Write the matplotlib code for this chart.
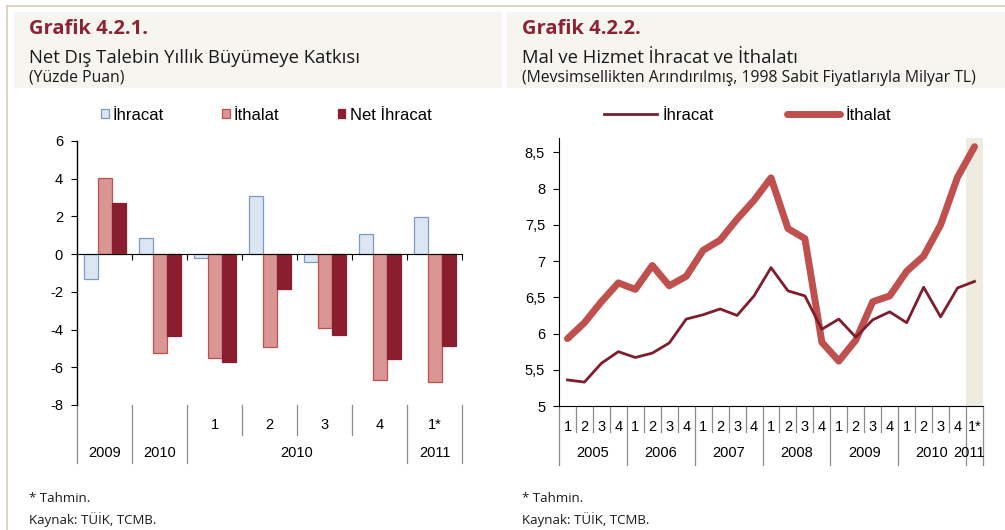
import matplotlib

matplotlib.use('Agg')
import matplotlib.pyplot as plt
from matplotlib.patches import Rectangle
from matplotlib.lines import Line2D

# ---- veri: Grafik 4.2.1 ----
gruplar = ['2009', '2010', '1', '2', '3', '4', '1*']
ihracat_katki = [-1.3, 0.87, -0.22, 3.06, -0.4, 1.08, 1.97]
ithalat_katki = [4.02, -5.25, -5.52, -4.95, -3.93, -6.67, -6.78]
net_ihracat = [2.73, -4.36, -5.72, -1.86, -4.31, -5.56, -4.86]
sol_yticks = [6, 4, 2, 0, -2, -4, -6, -8]

# ---- veri: Grafik 4.2.2 ----
yillar = ['2005', '2006', '2007', '2008', '2009', '2010', '2011']
ceyrekler = ['1', '2', '3', '4'] * 6 + ['1*']
ihracat = [5.36, 5.33, 5.59, 5.75, 5.67, 5.73, 5.87, 6.20,
           6.26, 6.34, 6.25, 6.52, 6.91, 6.59, 6.52, 6.06,
           6.20, 5.95, 6.19, 6.30, 6.15, 6.64, 6.23, 6.63, 6.72]
ithalat = [5.93, 6.15, 6.44, 6.70, 6.61, 6.94, 6.66, 6.79,
           7.15, 7.29, 7.58, 7.84, 8.15, 7.45, 7.31, 5.88,
           5.62, 5.91, 6.44, 6.52, 6.86, 7.07, 7.50, 8.16, 8.58]
sag_yticks = [5, 5.5, 6, 6.5, 7, 7.5, 8, 8.5]

W, H = 1005, 530
KOYU = '#8B1E2E'
ACIK_KIRMIZI = '#D99694'
KIRMIZI_KENAR = '#C0504D'
MAVI = '#DCE6F2'
MAVI_KENAR = '#7E9BC6'
BASLIK = '#8B2334'
CERCEVE = '#D8CCB8'
KUTU = '#F6F5F0'
GRI = '#8C8C8C'

fig = plt.figure(figsize=(W / 100, H / 100), dpi=100)
fig.patch.set_facecolor('white')


def px(x0, y0, x1, y1):
    return [x0 / W, 1 - y1 / H, (x1 - x0) / W, (y1 - y0) / H]


# cerceve ve baslik kutulari
fig.add_artist(Line2D([7 / W, 1], [1 - 6 / H, 1 - 6 / H], color=CERCEVE, lw=1.2))
fig.add_artist(Line2D([7 / W, 7 / W], [0, 1 - 6 / H], color=CERCEVE, lw=1.2))
fig.add_artist(Rectangle((14 / W, 1 - 88 / H), (502 - 14) / W, 76 / H,
                         facecolor=KUTU, edgecolor='none'))
fig.add_artist(Rectangle((507 / W, 1 - 88 / H), (W - 507) / W, 76 / H,
                         facecolor=KUTU, edgecolor='none'))

baslik_font = ['Open Sans', 'DejaVu Sans']
yazi_font = ['Liberation Sans', 'DejaVu Sans']

for x0, no, alt1, alt2 in [
        (29, 'Grafik 4.2.1.', 'Net Dış Talebin Yıllık Büyümeye Katkısı', '(Yüzde Puan)'),
        (522, 'Grafik 4.2.2.', 'Mal ve Hizmet İhracat ve İthalatı',
         '(Mevsimsellikten Arındırılmış, 1998 Sabit Fiyatlarıyla Milyar TL)')]:
    fig.text(x0 / W, 1 - 29 / H, no, family=baslik_font, fontsize=14.5, fontweight='bold',
             color=BASLIK, va='center')
    fig.text(x0 / W, 1 - 58 / H, alt1, family=baslik_font, fontsize=13.3, color='#1a1a1a',
             va='center')
    fig.text(x0 / W, 1 - 78 / H, alt2, family=baslik_font, fontsize=11.3, color='#1a1a1a',
             va='center')
    fig.text(x0 / W, 1 - 499 / H, '* Tahmin.', family=baslik_font, fontsize=9.5,
             color='#1a1a1a', va='center')
    fig.text(x0 / W, 1 - 520 / H, 'Kaynak: TÜİK, TCMB.', family=baslik_font, fontsize=9.5,
             color='#1a1a1a', va='center')

# ---------------- sol grafik ----------------
ax1 = fig.add_axes(px(77, 141, 462, 405))
n = len(gruplar)
bw = 14 / 55
xs = list(range(n))
ax1.bar([x - bw for x in xs], ihracat_katki, bw, color=MAVI, edgecolor=MAVI_KENAR,
        linewidth=0.9, label='İhracat', zorder=2)
ax1.bar(xs, ithalat_katki, bw, color=ACIK_KIRMIZI, edgecolor=KIRMIZI_KENAR,
        linewidth=0.9, label='İthalat', zorder=2)
ax1.bar([x + bw for x in xs], net_ihracat, bw, color=KOYU, edgecolor=KOYU,
        linewidth=0.9, label='Net İhracat', zorder=2)
ax1.set_xlim(-0.5, n - 0.5)
ax1.set_ylim(-8, 6)
ax1.set_yticks(sol_yticks)
ax1.set_yticklabels([str(v) for v in sol_yticks], family=yazi_font, fontsize=10.5)
ax1.spines['top'].set_visible(False)
ax1.spines['right'].set_visible(False)
ax1.spines['bottom'].set_position(('data', 0))
ax1.spines['left'].set_linewidth(1)
ax1.set_xticks([x - 0.5 for x in range(n + 1)])
ax1.set_xticklabels([])
ax1.tick_params(axis='x', direction='out', length=4, width=0.8)
ax1.tick_params(axis='y', direction='out', length=4, width=0.8, pad=6)
ax1.set_facecolor('none')

tr1 = ax1.get_xaxis_transform()
for i in range(n + 1):
    kisa = i in (3, 4, 5)
    ax1.plot([i - 0.5, i - 0.5], [0, -30 / 264 if kisa else -58 / 264], color=GRI,
             lw=0.9, transform=tr1, clip_on=False)
for i in range(2, n):
    ax1.text(i, -20 / 264, gruplar[i], transform=tr1, ha='center', va='center',
             family=yazi_font, fontsize=10.5)
for x, yil in [(0, '2009'), (1, '2010'), (3.5, '2010'), (6, '2011')]:
    ax1.text(x, -48 / 264, yil, transform=tr1, ha='center', va='center',
             family=yazi_font, fontsize=10.5)

fig.legend(*ax1.get_legend_handles_labels(), loc='center left',
           bbox_to_anchor=(101 / W, 1 - 115 / H), ncol=3, frameon=False,
           borderpad=0, borderaxespad=0, prop={'family': yazi_font, 'size': 12},
           handlelength=0.45, handleheight=0.45, handletextpad=0.25, columnspacing=3.5)

# ---------------- sag grafik ----------------
ax2 = fig.add_axes(px(559, 138, 983, 406))
m = len(ihracat)
ax2.axvspan(m - 1.5, m - 0.5, color='#EEEBE0', lw=0, zorder=0)
ax2.plot(range(m), ihracat, color='#7F1D2D', lw=2, label='İhracat', zorder=3)
ax2.plot(range(m), ithalat, color=KIRMIZI_KENAR, lw=5, label='İthalat', zorder=2,
         solid_capstyle='round')
ax2.set_xlim(-0.5, m - 0.5)
ax2.set_ylim(5, 8.7)
ax2.set_yticks(sag_yticks)
ax2.set_yticklabels([('%g' % v).replace('.', ',') for v in sag_yticks],
                    family=yazi_font, fontsize=10.5)
ax2.spines['top'].set_visible(False)
ax2.spines['right'].set_visible(False)
ax2.set_xticks([])
ax2.tick_params(axis='y', direction='out', length=4, width=0.8, pad=6)
ax2.set_facecolor('none')

tr2 = ax2.get_xaxis_transform()
for i in range(m + 1):
    yil_siniri = (i % 4 == 0) or i == m
    ax2.plot([i - 0.5, i - 0.5], [0, -59 / 268 if yil_siniri else -26 / 268], color=GRI,
             lw=0.9, transform=tr2, clip_on=False)
for i, q in enumerate(ceyrekler):
    ax2.text(i, -21 / 268, q, transform=tr2, ha='center', va='center',
             family=yazi_font, fontsize=10.5)
for k, yil in enumerate(yillar[:-1]):
    ax2.text(4 * k + 1.5, -47 / 268, yil, transform=tr2, ha='center', va='center',
             family=yazi_font, fontsize=10.5)
ax2.text(m - 1 - 0.35, -47 / 268, yillar[-1], transform=tr2, ha='center', va='center',
         family=yazi_font, fontsize=10.5)

fig.legend(*ax2.get_legend_handles_labels(), loc='center left',
           bbox_to_anchor=(604 / W, 1 - 115 / H), ncol=2, frameon=False,
           borderpad=0, borderaxespad=0, prop={'family': yazi_font, 'size': 12},
           handlelength=3.2, handletextpad=0.3, columnspacing=4.4)

fig.savefig('out.png', dpi=100, facecolor='white')
